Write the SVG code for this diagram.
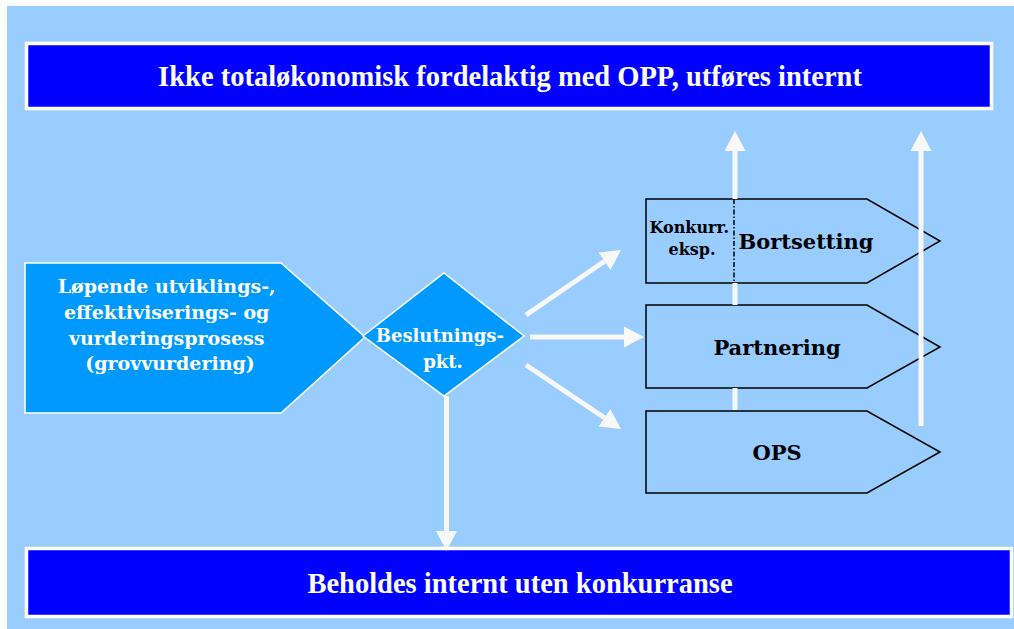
<svg xmlns="http://www.w3.org/2000/svg" width="1014" height="629" viewBox="0 0 1014 629">
  <style>
    .banner { fill: #0000FF; stroke: #FFFFFF; stroke-width: 3.5; }
    .banner-text { font-family: "Liberation Serif", "Times New Roman", serif; font-weight: bold; font-size: 28.5px; fill: #FFFFFF; text-anchor: middle; }
    .process { fill: #0099FF; stroke: #FFFFFF; stroke-width: 1.5; }
    .process-text { font-family: "DejaVu Serif", serif; font-weight: bold; font-size: 19px; fill: #FFFFFF; text-anchor: middle; }
    .decision-text { font-family: "DejaVu Serif", serif; font-weight: bold; font-size: 18px; fill: #FFFFFF; text-anchor: middle; }
    .option { fill: #99CCFF; stroke: #000000; stroke-width: 1.5; stroke-linejoin: miter; }
    .option-text { font-family: "DejaVu Serif", serif; font-weight: bold; font-size: 21px; fill: #000000; text-anchor: middle; }
    .small-text { font-family: "DejaVu Serif", serif; font-weight: bold; font-size: 16px; fill: #000000; text-anchor: middle; }
    .flow { fill: none; stroke: #F8F8F8; stroke-width: 5; marker-end: url(#head); }
  </style>
  <defs>
    <marker id="head" viewBox="0 0 20 21" refX="0" refY="10.5" markerWidth="20" markerHeight="21" markerUnits="userSpaceOnUse" orient="auto">
      <path d="M0,0 L20,10.5 L0,21 Z" fill="#F8F8F8"/>
    </marker>
  </defs>

  <!-- page background -->
  <rect x="0" y="0" width="1014" height="629" fill="#FFFFFF"/>
  <rect x="7" y="6" width="1007" height="623" fill="#99CCFF"/>

  <g id="top-banner">
    <rect class="banner" x="26.5" y="43.5" width="965" height="65"/>
    <text class="banner-text" x="510" y="86">Ikke totaløkonomisk fordelaktig med OPP, utføres internt</text>
  </g>

  <g id="process">
    <polygon class="process" points="25,263 281,263 365,337 281,413 25,413"/>
    <text class="process-text">
      <tspan x="170" y="293">Løpende utviklings-,</tspan>
      <tspan x="170" y="319">effektiviserings- og</tspan>
      <tspan x="170" y="345">vurderingsprosess</tspan>
      <tspan x="170" y="370">(grovvurdering)</tspan>
    </text>
  </g>

  <g id="decision">
    <polygon class="process" points="444,273 524,336 444,396 363,336"/>
    <text class="decision-text">
      <tspan x="443" y="342">Beslutnings-</tspan>
      <tspan x="443" y="368">pkt.</tspan>
    </text>
  </g>

  <g id="bortsetting">
    <polygon class="option" points="646,199 867,199 940,241 867,283 646,283"/>
    <line x1="734" y1="199" x2="734" y2="283" stroke="#000000" stroke-width="1.5" stroke-dasharray="5 2 1.5 2"/>
    <text class="small-text">
      <tspan x="692" y="233">Konkurr.</tspan>
      <tspan x="692" y="255">eksp.</tspan>
    </text>
    <text class="option-text" x="806" y="249">Bortsetting</text>
  </g>

  <g id="partnering">
    <polygon class="option" points="646,305 867,305 940,347 867,388 646,388"/>
    <text class="option-text" x="777" y="355">Partnering</text>
  </g>

  <g id="ops">
    <polygon class="option" points="646,411 867,411 940,452 867,493 646,493"/>
    <text class="option-text" x="777" y="460">OPS</text>
  </g>

  <g id="bottom-banner">
    <rect class="banner" x="26.5" y="548.5" width="985" height="68"/>
    <text class="banner-text" x="520" y="593">Beholdes internt uten konkurranse</text>
  </g>

  <g id="connectors">
    <line class="flow" x1="526" y1="315" x2="604.5" y2="261.3"/>
    <line class="flow" x1="530" y1="337" x2="624" y2="337"/>
    <line class="flow" x1="526" y1="365" x2="604.4" y2="417.8"/>
    <line class="flow" x1="446.5" y1="396" x2="446.5" y2="531"/>
    <path class="flow" d="M735,410 V388 M735,305 V283 M735,199 V151"/>
    <line class="flow" x1="921" y1="426" x2="921" y2="151"/>
  </g>
</svg>
